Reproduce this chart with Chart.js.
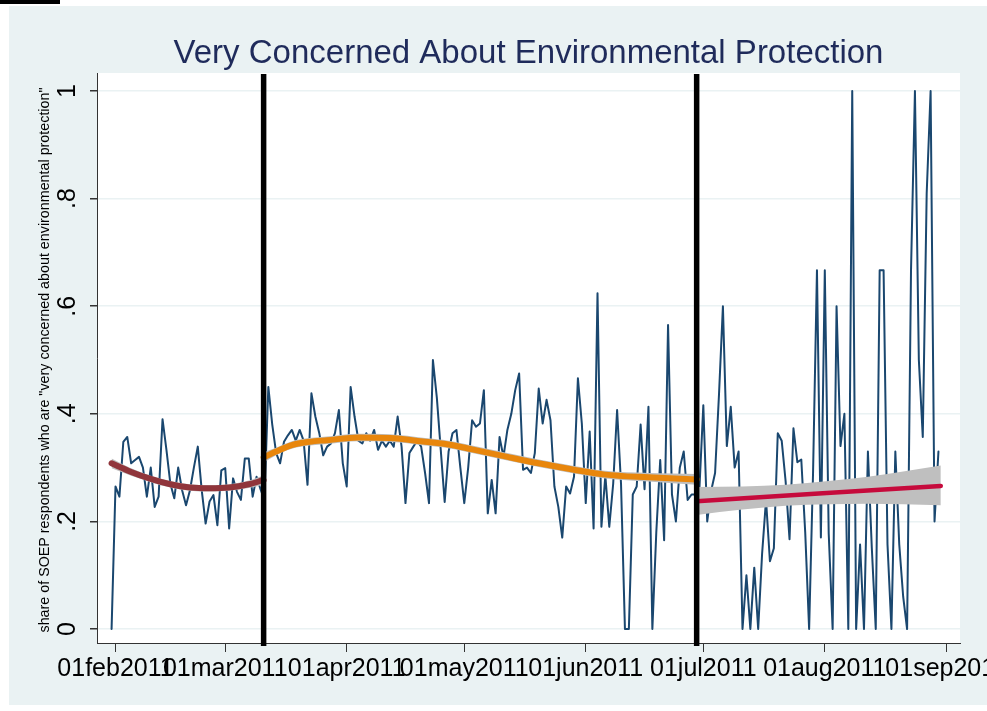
<!DOCTYPE html>
<html>
<head>
<meta charset="utf-8">
<title>Very Concerned About Environmental Protection</title>
<script src="https://cdn.jsdelivr.net/npm/chart.js@4.4.1/dist/chart.umd.min.js"></script>
<style>
  html, body { margin: 0; padding: 0; background: #fff; }
  #wrap { position: relative; width: 987px; height: 711px; overflow: hidden; }
  #panel { position: absolute; left: 9px; top: 6px; right: 0; bottom: 6px; background: #eaf2f3; }
  #bar { position: absolute; left: 0; top: 0; width: 60px; height: 4px; background: #000; }
  canvas { position: absolute; left: 0; top: 0; }
</style>
</head>
<body>
<div id="wrap">
  <div id="panel"></div>
  <div id="bar"></div>
  <canvas id="myChart" width="987" height="711"></canvas>
</div>
<script>
// x values are days counted from 01feb2011 (day 0); first observation is 31jan2011
var firstDay = -1;

// daily share of respondents "very concerned", 31jan2011 .. 30aug2011
var shareVery = [
  0, .265, .246, .348, .357, .308, .314, .32, .30, .246,
  .30, .227, .246, .39, .333, .27, .243, .30, .258, .23,
  .258, .30, .339, .258, .196, .237, .249, .193, .295, .299,
  .187, .28, .255, .24, .317, .317, .246, .283, .26, .24,
  .45, .38, .327, .308, .348, .36, .37, .35, .37, .35,
  .268, .438, .395, .364, .323, .339, .345, .364, .407, .308,
  .265, .45, .395, .35, .345, .364, .35, .37, .333, .35,
  .339, .35, .339, .395, .339, .234, .327, .339, .35, .339,
  .29, .234, .50, .43, .333, .236, .33, .364, .37, .30,
  .234, .30, .388, .376, .382, .444, .215, .277, .215, .357,
  .32, .37, .40, .444, .475, .296, .30, .29, .327, .447,
  .382, .426, .388, .265, .227, .17, .265, .252, .283, .466,
  .382, .234, .367, .187, .624, .19, .285, .19, .27, .407,
  .27, 0, 0, .25, .265, .38, .26, .413, 0, .18,
  .314, .165, .565, .25, .20, .30, .33, .24, .25, .25,
  .26, .416, .20, .257, .29, .436, .60, .34, .413, .30,
  .33, 0, .10, 0, .114, 0, .14, .24, .126, .15,
  .364, .35, .275, .167, .373, .31, .315, .18, 0, .29,
  .667, .17, .667, .177, 0, .60, .34, .40, 0, 1,
  0, .157, 0, .33, .15, 0, .667, .667, .157, 0,
  .33, .157, .06, 0, .667, 1, .5, .357, .81, 1,
  .20, .33
];

// fitted curve before 11mar2011 (with its confidence band)
var fit1Days = [-1, 4, 9, 14, 19, 24, 29, 34, 37.8];
var fit1 =     [.308, .292, .279, .269, .263, .2615, .263, .269, .277];
var fit1Hi =   [.317, .299, .285, .275, .269, .2675, .269, .276, .286];
var fit1Lo =   [.299, .285, .273, .263, .257, .2555, .257, .262, .268];

// fitted curve 11mar2011 .. end of June
var fit2Days = [37.8, 41, 45, 49.5, 54, 62, 70, 79, 85, 91, 100, 108, 117, 125, 136, 148.3];
var fit2 =     [.319, .330, .342, .348, .351, .356, .355, .348, .343, .334, .320, .308, .296, .287, .282, .278];
var fit2Hi =   [.329, .337, .349, .355, .358, .363, .362, .355, .350, .341, .327, .315, .303, .294, .290, .288];
var fit2Lo =   [.309, .323, .335, .341, .344, .349, .348, .341, .336, .327, .313, .301, .289, .280, .274, .268];

// linear fit after the second break, with its confidence band
var fit3Days = [148.3, 210.6];
var fit3 =     [.2375, .266];
var band3Days = [148.3, 160, 171, 182, 192, 201, 210.6];
var band3Hi =   [.264, .265, .268, .275, .283, .293, .304];
var band3Lo =   [.212, .222, .229, .232, .233, .232, .230];

var eventDays = [37.8, 148.3];   // the two black vertical lines

var tickDays = [0, 28, 59, 89, 120, 150, 181, 212];
var tickLabels = ['01feb2011', '01mar2011', '01apr2011', '01may2011', '01jun2011', '01jul2011', '01aug2011', '01sep2011'];
var yTicks = [0, .2, .4, .6, .8, 1];
var yTickLabels = ['0', '.2', '.4', '.6', '.8', '1'];

var titleText = 'Very Concerned About Environmental Protection';
var yTitleText = 'share of SOEP respondents who are "very concerned about environmental protection"';

function pts(xs, ys) {
  return ys.map(function (v, i) { return { x: xs[i], y: v }; });
}

var FONT = '"Liberation Sans", Arial, sans-serif';

var stataPlugin = {
  id: 'stata',
  beforeDraw: function (chart) {
    var a = chart.chartArea, ctx = chart.ctx;
    ctx.save();
    ctx.fillStyle = '#ffffff';
    ctx.fillRect(a.left, a.top, a.right - a.left, a.bottom - a.top);
    ctx.restore();
  },
  afterDatasetsDraw: function (chart) {
    var a = chart.chartArea, ctx = chart.ctx, xs = chart.scales.x;
    ctx.save();
    ctx.strokeStyle = '#000';
    ctx.lineWidth = 5.5;
    eventDays.forEach(function (d) {
      var px = xs.getPixelForValue(d);
      ctx.beginPath();
      ctx.moveTo(px, a.top + 1);
      ctx.lineTo(px, a.bottom + 3);
      ctx.stroke();
    });
    ctx.restore();
  },
  afterDraw: function (chart) {
    var a = chart.chartArea, ctx = chart.ctx, ys = chart.scales.y;
    ctx.save();
    // title
    ctx.fillStyle = '#1f2b5b';
    ctx.font = '33px ' + FONT;
    ctx.textAlign = 'center';
    ctx.textBaseline = 'alphabetic';
    ctx.fillText(titleText, (a.left + a.right) / 2, 63);
    // rotated y tick labels
    ctx.fillStyle = '#000';
    ctx.font = '25px ' + FONT;
    yTicks.forEach(function (v, i) {
      ctx.save();
      ctx.translate(66, ys.getPixelForValue(v));
      ctx.rotate(-Math.PI / 2);
      ctx.fillText(yTickLabels[i], 0, 9);
      ctx.restore();
    });
    // y axis title
    ctx.font = '14.3px ' + FONT;
    ctx.textBaseline = 'middle';
    ctx.translate(45, 360);
    ctx.rotate(-Math.PI / 2);
    ctx.fillText(yTitleText, 0, 0);
    ctx.restore();
  }
};

var gray = '#bfbfbf';
var ctx = document.getElementById('myChart').getContext('2d');
var myChart = new Chart(ctx, {
  type: 'line',
  data: {
    datasets: [
      // fitted lines on top
      { data: pts(fit1Days, fit1), borderColor: '#90353b', borderWidth: 6, order: 1 },
      { data: pts(fit2Days, fit2), borderColor: '#e8860c', borderWidth: 6, order: 1 },
      { data: pts(fit3Days, fit3), borderColor: '#c60a3c', borderWidth: 4.5, order: 1 },
      // confidence bands
      { data: pts(fit1Days, fit1Hi), borderWidth: 0, fill: false, order: 2 },
      { data: pts(fit1Days, fit1Lo), borderWidth: 0, fill: '-1', backgroundColor: gray, order: 2 },
      { data: pts(fit2Days, fit2Hi), borderWidth: 0, fill: false, order: 2 },
      { data: pts(fit2Days, fit2Lo), borderWidth: 0, fill: '-1', backgroundColor: gray, order: 2 },
      { data: pts(band3Days, band3Hi), borderWidth: 0, fill: false, order: 2 },
      { data: pts(band3Days, band3Lo), borderWidth: 0, fill: '-1', backgroundColor: gray, order: 2 },
      // daily series underneath
      {
        data: shareVery.map(function (v, i) { return { x: firstDay + i, y: v }; }),
        borderColor: '#1a476f', borderWidth: 2, tension: 0,
        cubicInterpolationMode: 'default', order: 3
      }
    ]
  },
  options: {
    responsive: false,
    animation: false,
    events: [],
    layout: { padding: { top: 73, right: 27, bottom: 0, left: 0 } },
    elements: {
      point: { radius: 0 },
      line: { cubicInterpolationMode: 'monotone', borderCapStyle: 'round', borderJoinStyle: 'round' }
    },
    plugins: { legend: { display: false }, tooltip: { enabled: false }, title: { display: false } },
    scales: {
      x: {
        type: 'linear', min: -4.72, max: 215.5,
        afterBuildTicks: function (s) { s.ticks = tickDays.map(function (v) { return { value: v }; }); },
        ticks: {
          autoSkip: false, maxRotation: 0, minRotation: 0, padding: 2, color: '#000',
          font: { family: FONT, size: 25 },
          callback: function (value, index) { return tickLabels[index]; }
        },
        grid: { drawOnChartArea: false, tickLength: 9, color: '#333', lineWidth: 1 },
        border: { color: '#333', width: 1 },
        afterFit: function (s) { s.height = 68; s.paddingLeft = 0; s.paddingRight = 0; }
      },
      y: {
        min: -0.026, max: 1.0335,
        afterBuildTicks: function (s) { s.ticks = yTicks.map(function (v) { return { value: v }; }); },
        ticks: { display: false },
        grid: { color: '#eaf2f3', lineWidth: 1.5, tickColor: '#333', tickLength: 7 },
        border: { color: '#333', width: 1 },
        afterFit: function (s) { s.width = 97; s.paddingTop = 0; s.paddingBottom = 0; }
      }
    }
  },
  plugins: [stataPlugin]
});
</script>
</body>
</html>
